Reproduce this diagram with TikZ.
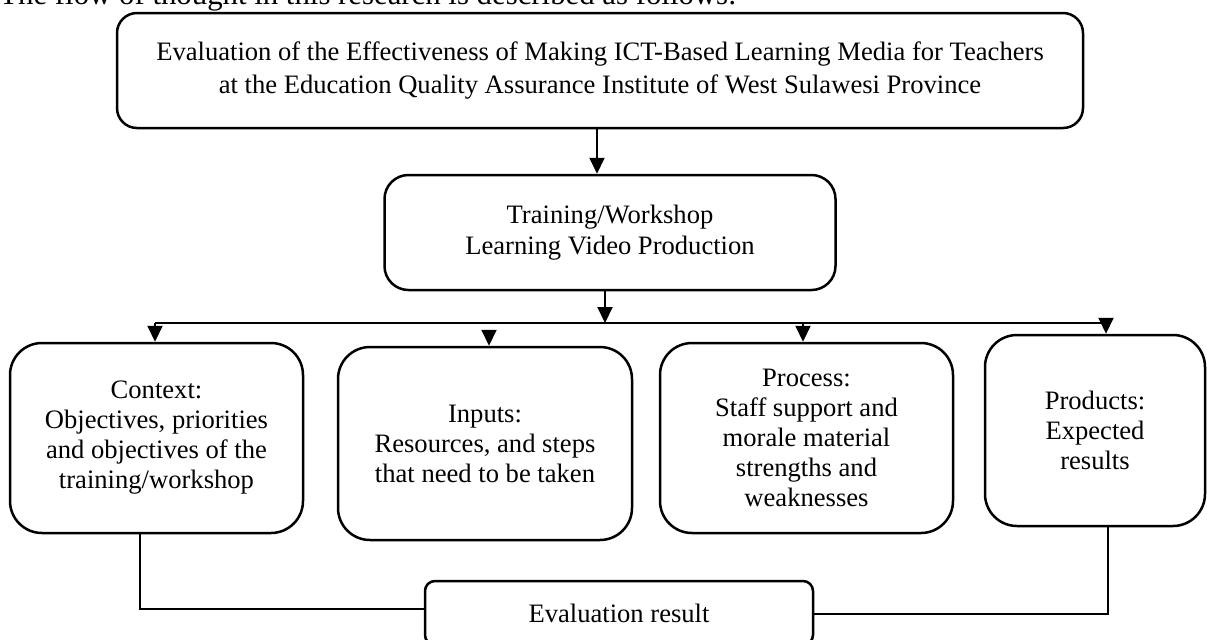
\documentclass[tikz,border=0pt]{standalone}
\usepackage{fontspec}
\setmainfont{Liberation Serif}
\usetikzlibrary{arrows.meta}
\tikzset{
  box/.style={draw, line width=1.25pt, rounded corners=16pt, align=center, inner sep=0pt, fill=white},
  txt/.style={font=\fontsize{13.3}{15}\selectfont},
  conn/.style={line width=1pt},
  arr/.style={line width=1pt, -{Triangle[width=7.5pt,length=8pt]}}
}
\begin{document}
\begin{tikzpicture}[x=0.5pt,y=-0.5pt]
\useasboundingbox (0,0) rectangle (1207,639);
\node[anchor=base west, inner sep=0pt, font=\fontsize{15.4}{18}\selectfont] (hdr) at (-1,4) {The flow of thought in this research is described as follows:};

\node[box, rounded corners=10pt, minimum width=483pt, minimum height=57.5pt, font=\fontsize{13.3}{16.5}\selectfont] (top) at (600,70.5)
  {Evaluation of the Effectiveness of Making ICT-Based Learning Media for Teachers\\at the Education Quality Assurance Institute of West Sulawesi Province};
\node[box, rounded corners=12pt, minimum width=225.5pt, minimum height=57.5pt, font=\fontsize{13.3}{15.5}\selectfont] (train) at (610,232.5)
  {Training/Workshop\\Learning Video Production};

\node[box, txt, minimum width=146.5pt, minimum height=95pt] (ctx) at (156.5,438)
  {Context:\\Objectives, priorities\\and objectives of the\\training/workshop};
\node[box, txt, minimum width=147pt, minimum height=96.5pt] (inp) at (485,443.5)
  {Inputs:\\Resources, and steps\\that need to be taken};
\node[box, txt, minimum width=146.5pt, minimum height=95pt] (proc) at (806.5,438)
  {Process:\\Staff support and\\morale material\\strengths and\\weaknesses};
\node[box, txt, minimum width=110pt, minimum height=95.5pt] (prod) at (1095,430.5)
  {Products:\\Expected\\results};
\node[box, txt, rounded corners=5pt, minimum width=194pt, minimum height=32pt] (eval) at (619,613)
  {Evaluation result};

\coordinate (bL) at (155,323);
\coordinate (bR) at (1106,323);
\coordinate (iS) at (489,330);
\coordinate (pS) at (803,323);
\coordinate (lj) at (140,609);
\coordinate (rj) at (1108,614);

\draw[arr] ([xshift=-1.5pt]top.south) -- ([xshift=-1.5pt]top.south |- train.north);
\draw[conn] (bL) -- (bR);
\draw[arr] ([xshift=-2.5pt]train.south) -- ([xshift=-2.5pt]train.south |- bL);
\draw[arr] (bL) -- (bL |- ctx.north);
\draw[arr] (iS) -- (iS |- inp.north);
\draw[arr] (pS) -- (pS |- proc.north);
\draw[arr] (bR) -- (bR |- prod.north);
\draw[conn] (ctx.south -| lj) -- (lj) -- (lj -| eval.west);
\draw[conn] (prod.south -| rj) -- (rj) -- (rj -| eval.east);
\end{tikzpicture}
\end{document}
